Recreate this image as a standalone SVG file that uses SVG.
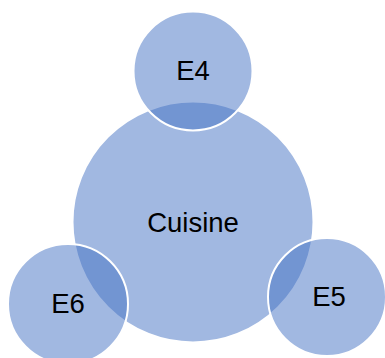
<svg xmlns="http://www.w3.org/2000/svg" width="385" height="358" viewBox="0 0 385 358">
<style>
.c{fill:#4472C4;fill-opacity:0.5;stroke:#ffffff;stroke-width:2}
.t{font-family:"Liberation Sans",Arial,sans-serif;font-size:27.5px;fill:#000000;text-anchor:middle}
</style>
<rect width="385" height="358" fill="#ffffff"/>
<g id="cuisine">
<circle class="c" cx="193" cy="222" r="120.5" stroke="none"/>
<text class="t" x="193" y="232">Cuisine</text>
</g>
<g id="e4">
<circle class="c" cx="193" cy="71" r="59.5"/>
<text class="t" x="193" y="80">E4</text>
</g>
<g id="e5">
<circle class="c" cx="327" cy="297" r="59"/>
<text class="t" x="329" y="306">E5</text>
</g>
<g id="e6">
<circle class="c" cx="68" cy="304" r="60"/>
<text class="t" x="68" y="313">E6</text>
</g>
<g id="connectors"></g>
</svg>
